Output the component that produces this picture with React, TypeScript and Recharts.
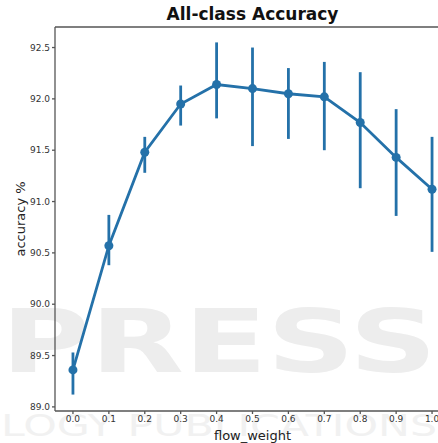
import {
  ErrorBar,
  Label,
  Line,
  LineChart,
  ReferenceLine,
  XAxis,
  YAxis,
} from "recharts";

const FLOW_WEIGHTS = [0.0, 0.1, 0.2, 0.3, 0.4, 0.5, 0.6, 0.7, 0.8, 0.9, 1.0];
const ACCURACY = [89.36, 90.57, 91.48, 91.95, 92.14, 92.1, 92.05, 92.02, 91.77, 91.43, 91.12];
const ACC_LOW = [89.12, 90.38, 91.28, 91.74, 91.81, 91.54, 91.61, 91.5, 91.13, 90.86, 90.51];
const ACC_HIGH = [89.53, 90.87, 91.63, 92.13, 92.55, 92.5, 92.3, 92.36, 92.26, 91.9, 91.63];
const X_TICKS = [0, 0.1, 0.2, 0.3, 0.4, 0.5, 0.6, 0.7, 0.8, 0.9, 1.0];
const Y_TICKS = [89.0, 89.5, 90.0, 90.5, 91.0, 91.5, 92.0, 92.5];

const BLUE = "#2471a9";
const SPINE = "#555555";
const FONT = "'DejaVu Sans', sans-serif";

const data = FLOW_WEIGHTS.map((w, i) => ({
  w,
  acc: ACCURACY[i],
  err: [ACCURACY[i] - ACC_LOW[i], ACC_HIGH[i] - ACCURACY[i]],
}));

export default function App() {
  return (
    <div
      style={{
        position: "absolute",
        left: 0,
        top: 0,
        width: 438,
        height: 443,
        overflow: "hidden",
        background: "#fff",
        fontFamily: FONT,
      }}
    >
      {/* publisher watermark behind the plot */}
      <svg
        width={438}
        height={443}
        style={{ position: "absolute", left: 0, top: 0 }}
      >
        <text
          x={1}
          y={372}
          fontSize={88}
          fontWeight="bold"
          fill="#ededed"
          textLength={436}
          lengthAdjust="spacingAndGlyphs"
          fontFamily={FONT}
        >
          PRESS
        </text>
        <text
          x={1}
          y={436}
          fontSize={30}
          fill="#f1f1f1"
          textLength={436}
          lengthAdjust="spacingAndGlyphs"
          fontFamily={FONT}
        >
          LOGY PUBLICATIONS
        </text>
      </svg>

      <div
        style={{
          position: "absolute",
          left: 0,
          top: 4,
          width: 505,
          textAlign: "center",
          fontSize: 17,
          fontWeight: "bold",
          color: "#111",
        }}
      >
        All-class Accuracy
      </div>

      <div style={{ position: "absolute", left: 0, top: 0 }}>
        <LineChart
          width={460}
          height={443}
          data={data}
          margin={{ top: 27, right: 10, bottom: 0, left: 0 }}
        >
          <XAxis
            dataKey="w"
            type="number"
            domain={[-0.05, 1.05]}
            ticks={X_TICKS}
            tickFormatter={(v: number) => v.toFixed(1)}
            height={32}
            stroke={SPINE}
            strokeWidth={1.3}
            tickSize={3}
            tick={{ fontSize: 9, fill: "#333", fontFamily: FONT }}
            interval={0}
          >
            <Label
              value="flow_weight"
              position="insideBottom"
              offset={3}
              style={{ fontSize: 13, fill: "#222", fontFamily: FONT }}
            />
          </XAxis>
          <YAxis
            type="number"
            domain={[88.96, 92.7]}
            ticks={Y_TICKS}
            tickFormatter={(v: number) => v.toFixed(1)}
            width={55}
            stroke={SPINE}
            strokeWidth={1.3}
            tickSize={3}
            tick={{ fontSize: 9, fill: "#333", fontFamily: FONT }}
            interval={0}
          >
            <Label
              value="accuracy %"
              angle={-90}
              position="insideLeft"
              offset={20}
              style={{
                fontSize: 13,
                fill: "#222",
                fontFamily: FONT,
                textAnchor: "middle",
              }}
            />
          </YAxis>
          <ReferenceLine y={92.7} stroke={SPINE} strokeWidth={1.3} />
          <Line
            dataKey="acc"
            stroke={BLUE}
            strokeWidth={2.8}
            dot={{ r: 4.5, fill: BLUE, stroke: BLUE, strokeWidth: 0 }}
            isAnimationActive={false}
          >
            <ErrorBar
              dataKey="err"
              direction="y"
              width={0}
              stroke={BLUE}
              strokeWidth={2.8}
            />
          </Line>
        </LineChart>
      </div>
    </div>
  );
}
